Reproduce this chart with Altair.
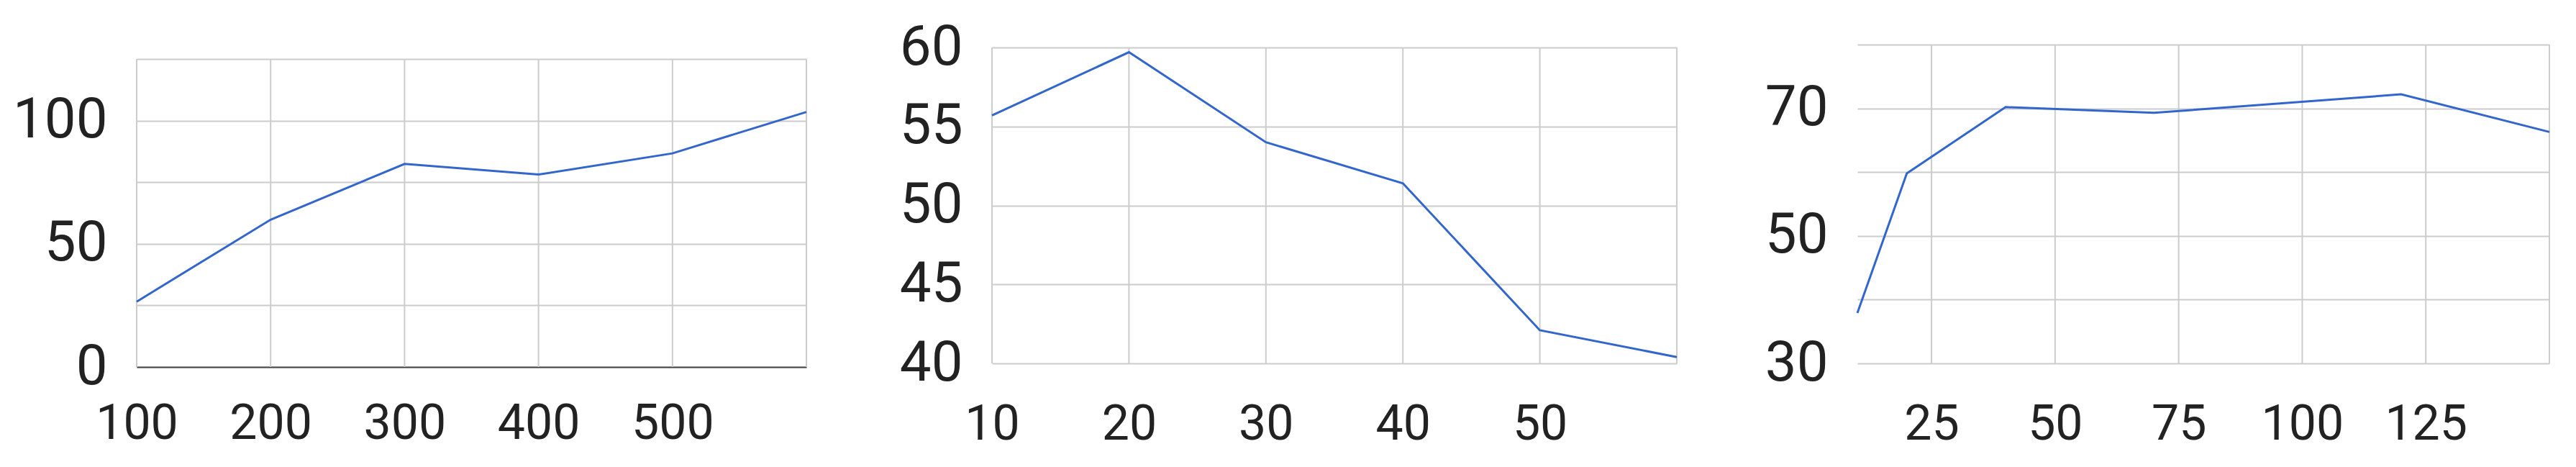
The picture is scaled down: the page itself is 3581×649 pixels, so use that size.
import altair as alt
import pandas as pd

# Panel 1
p1_x = [100, 200, 300, 400, 500, 600]
p1_y = [26.5, 59.8, 82.4, 78.1, 86.7, 103.5]
# Panel 2
p2_x = [10, 20, 30, 40, 50, 60]
p2_y = [55.7, 59.7, 54.0, 51.4, 42.1, 40.4]
# Panel 3
p3_x = [10, 20, 40, 70, 120, 150]
p3_y = [37.9, 59.8, 70.2, 69.3, 72.2, 66.3]

p1_xticks = [100, 200, 300, 400, 500, 600]
p1_yticks = [0, 25, 50, 75, 100, 125]
p2_xticks = [10, 20, 30, 40, 50, 60]
p2_yticks = [40, 45, 50, 55, 60]
p3_xticks = [25, 50, 75, 100, 125, 150]
p3_yticks = [30, 40, 50, 60, 70, 80]

LINE = "#3366cc"
GRID = "#cccccc"
TXT = "#222222"
FONT = "Roboto"


def panel(xs, ys, xdom, ydom, xticks, yticks, xlabel_expr, ylabel_expr,
          w, h, xrange, yrange, xpad, base_domain):
    df = pd.DataFrame({"x": xs, "y": ys})
    grid_df = pd.DataFrame({"x": xticks,
                            "y": [ydom[0]] * len(xticks),
                            "y2": [ydom[1]] * len(xticks)})
    xaxis = dict(values=xticks, grid=False,
                 ticks=False, labelFont=FONT, labelFontSize=68,
                 labelColor=TXT, labelPadding=xpad, title=None,
                 labelExpr=xlabel_expr, labelFlush=False, labelOverlap=False,
                 domain=base_domain)
    if base_domain:
        xaxis.update(domainColor="#444444", domainWidth=2)
    xs_kw = dict(domain=xdom, nice=False, zero=False)
    if xrange is not None:
        xs_kw["range"] = xrange
    ys_kw = dict(domain=ydom, nice=False, zero=False)
    if yrange is not None:
        ys_kw["range"] = yrange
    xenc = alt.X("x:Q", scale=alt.Scale(**xs_kw), axis=alt.Axis(**xaxis))
    yenc = alt.Y("y:Q", scale=alt.Scale(**ys_kw),
                 axis=alt.Axis(values=yticks, grid=True, gridColor=GRID,
                               gridWidth=2, ticks=False, domain=False,
                               labelFont=FONT, labelFontSize=78,
                               labelColor=TXT, labelPadding=41, title=None,
                               labelExpr=ylabel_expr, labelFlush=False,
                               labelOverlap=False))
    vgrid = alt.Chart(grid_df).mark_rule(color=GRID, strokeWidth=2).encode(
        x=xenc, y=yenc, y2="y2:Q")
    line = alt.Chart(df).mark_line(color=LINE, strokeWidth=3).encode(
        x=xenc, y=yenc)
    return alt.layer(vgrid, line).properties(width=w, height=h)


c1 = panel(p1_x, p1_y, [100, 600], [0, 125], p1_xticks, p1_yticks,
           "datum.value == 600 ? '' : datum.label",
           "datum.value % 50 == 0 ? datum.label : ''",
           938, 448, [0, 931], [448, 20], 45, True)
c2 = panel(p2_x, p2_y, [10, 60], [40, 60], p2_xticks, p2_yticks,
           "datum.value == 60 ? '' : datum.label",
           "datum.label",
           952, 443, None, [443, 4], 51, False)
c3 = panel(p3_x, p3_y, [10, 150], [30, 80], p3_xticks, p3_yticks,
           "datum.value == 150 ? '' : datum.label",
           "(datum.value == 30 || datum.value == 50 || datum.value == 70) ? datum.label : ''",
           962, 443, None, None, 51, False)

chart = alt.concat(c1, c2, c3, columns=3, spacing=251, bounds="flush",
                   align="none").properties(
    padding={"left": 9, "top": 15, "right": 0, "bottom": 40},
    background="white",
).configure_view(stroke=None)

chart.save("out.html", embed_options={"renderer": "svg", "actions": False})
